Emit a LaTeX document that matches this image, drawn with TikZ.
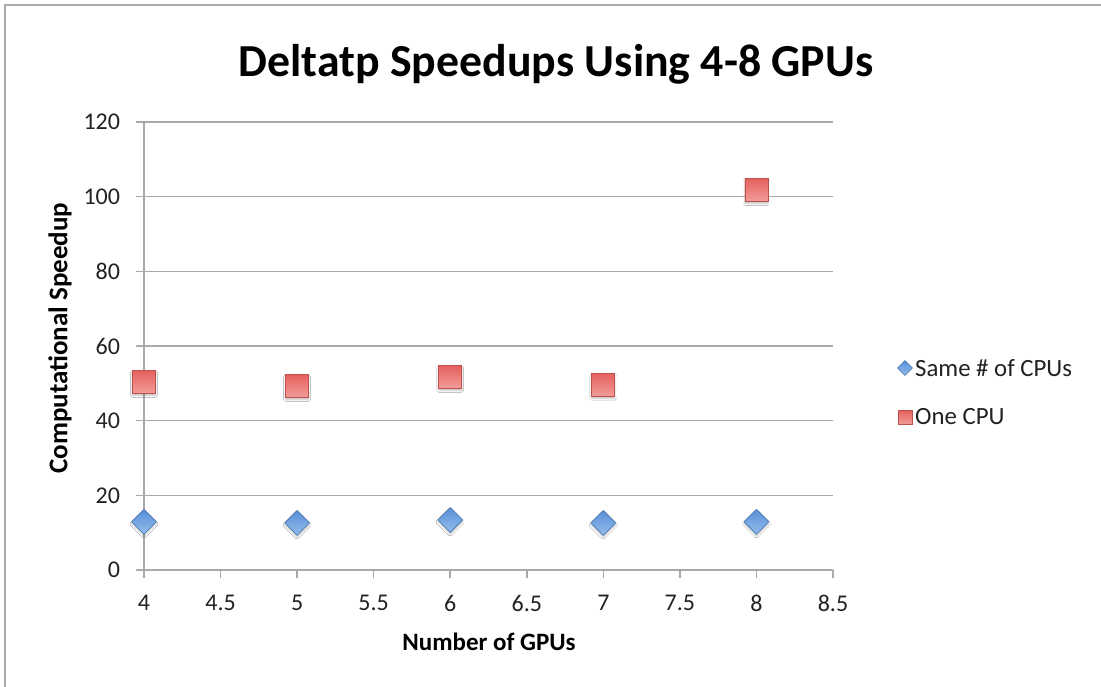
\documentclass[tikz,border=0pt]{standalone}
\usepackage{fontspec}
\setmainfont{Carlito}
\usetikzlibrary{shapes.geometric,shadows.blur}
\definecolor{gridc}{HTML}{A9A9A9}
\definecolor{framec}{HTML}{AAAAAA}
\definecolor{redb}{HTML}{C0504D}
\definecolor{redt}{HTML}{E5605C}
\definecolor{redl}{HTML}{F29D9A}
\definecolor{blueb}{HTML}{4F81BD}
\definecolor{bluet}{HTML}{5A8FD8}
\definecolor{bluel}{HTML}{94BDEB}
\definecolor{txt}{HTML}{222222}
\tikzset{
  gridline/.style={draw=gridc, line width=1.6pt},
  sqmark/.style={rectangle, minimum size=23pt, inner sep=0pt, draw=redb, line width=0.8pt,
     top color=redt, bottom color=redl, blur shadow={shadow xshift=0pt, shadow yshift=-2pt, shadow blur steps=4, shadow opacity=25}},
  dmmark/.style={diamond, minimum width=25pt, minimum height=25pt, inner sep=0pt, draw=blueb, line width=0.8pt,
     top color=bluet, bottom color=bluel, blur shadow={shadow xshift=0pt, shadow yshift=-2pt, shadow blur steps=4, shadow opacity=25}},
  ticklab/.style={font=\fontsize{24}{26}\selectfont, text=txt, inner sep=0pt},
  axtitle/.style={font=\fontsize{25}{28}\selectfont\bfseries, text=black, inner sep=0pt},
}
\begin{document}
\begin{tikzpicture}[x=1pt,y=-1pt]
\useasboundingbox (0,0) rectangle (1101,687);
\fill[white] (0,0) rectangle (1101,687);
\draw[framec, line width=2pt] (5,687) -- (5,5) -- (1101,5);
\node[font=\fontsize{45.8}{50}\selectfont\bfseries, inner sep=0pt] (title) at (556,64) {Deltatp Speedups Using 4-8 GPUs};
\begin{scope}[shift={(144,570)}, x=153.111pt, y=3.7333pt]
  % gridlines and y ticks
  \foreach \v in {20,40,60,80,100,120} {
    \draw[gridline] (-0.05,\v) -- (4.5,\v);
  }
  \foreach \v in {0,20,40,60,80,100,120} {
    \node[ticklab, anchor=east] (yl\v) at (-0.155,\v) {\v};
  }
  % axes
  \draw[gridline] (0,0) -- (0,120);
  \draw[gridline] (-0.05,0) -- (4.5,0);
  \foreach \t/\l in {0/4,0.5/4.5,1/5,1.5/5.5,2/6,2.5/6.5,3/7,3.5/7.5,4/8,4.5/8.5} {
    \draw[gridline] (\t,0) -- ++(0,-2.2);
    \node[ticklab] (xl\l) at (\t,-8.9) {\l};
  }
  % data
  \node[dmmark] (b4) at (0,12.9) {};
  \node[dmmark] (b5) at (1,12.6) {};
  \node[dmmark] (b6) at (2,13.4) {};
  \node[dmmark] (b7) at (3,12.6) {};
  \node[dmmark] (b8) at (4,12.9) {};
  \node[sqmark] (r4) at (0,50.4) {};
  \node[sqmark] (r5) at (1,49.3) {};
  \node[sqmark] (r6) at (2,51.7) {};
  \node[sqmark] (r7) at (3,49.6) {};
  \node[sqmark] (r8) at (4,101.8) {};
\end{scope}
\node[axtitle] (xtitle) at (489,642) {Number of GPUs};
\node[axtitle, font=\fontsize{27}{30}\selectfont\bfseries, rotate=90] (ytitle) at (60,338) {Computational Speedup};
% legend
\node[diamond, minimum width=15pt, minimum height=15pt, inner sep=0pt, draw=blueb, line width=0.6pt, top color=bluet, bottom color=bluel] (legb) at (905,368) {};
\node[ticklab, font=\fontsize{24.8}{27}\selectfont, anchor=west] (legbt) at (915,368) {Same \# of CPUs};
\node[rectangle, minimum size=14pt, inner sep=0pt, draw=redb, line width=0.6pt, top color=redt, bottom color=redl] (legr) at (905,417) {};
\node[ticklab, font=\fontsize{24.8}{27}\selectfont, anchor=west] (legrt) at (915,417) {One CPU};
\end{tikzpicture}
\end{document}
